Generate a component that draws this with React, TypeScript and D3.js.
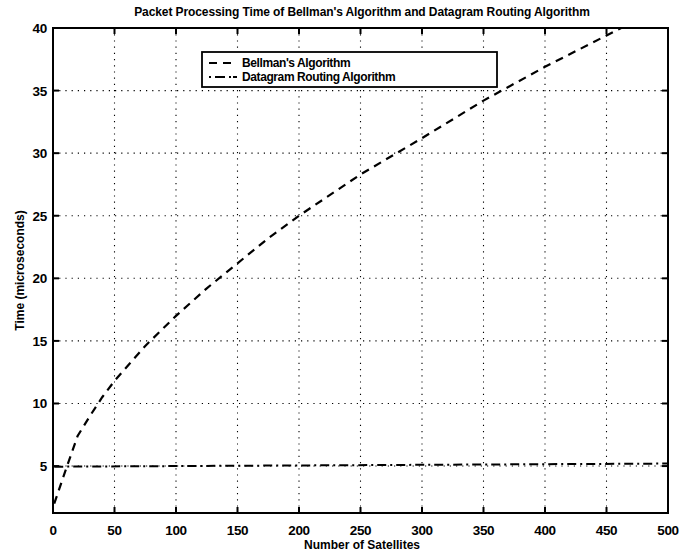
import React from "react";
import * as d3 from "d3";

const satellites = [1, 10, 20, 30, 40, 50, 75, 100, 125, 150, 175, 200, 250, 300, 350, 400, 450, 470];
const bellman = [2.0, 4.6, 7.4, 9.0, 10.5, 11.8, 14.6, 17.0, 19.2, 21.2, 23.2, 25.0, 28.3, 31.2, 34.2, 36.9, 39.4, 40.4];
const datagramX = [1, 100, 200, 300, 400, 500];
const datagram = [4.95, 5.0, 5.05, 5.1, 5.15, 5.2];
const xTicks = [0, 50, 100, 150, 200, 250, 300, 350, 400, 450, 500];
const yTicks = [5, 10, 15, 20, 25, 30, 35, 40];
const seriesNames = ["Bellman's Algorithm", "Datagram Routing Algorithm"];

const W = 694, H = 553;
const L = 53, R = 668, T = 28, B = 513;
const font = "'Liberation Sans', Arial, Helvetica, sans-serif";

export default function App() {
  const x = d3.scaleLinear().domain([0, 500]).range([L, R]);
  const y = d3.scaleLinear().domain([1.25, 40]).range([B, T]);
  const line = d3.line<[number, number]>().x(d => x(d[0])).y(d => y(d[1]));
  const bPts: [number, number][] = satellites.map((s, i) => [s, bellman[i]]);
  const dPts: [number, number][] = datagramX.map((s, i) => [s, datagram[i]]);
  return (
    <svg width={W} height={H} style={{ position: "absolute", left: 0, top: 0, background: "#fff" }}>
      <defs>
        <clipPath id="plot"><rect x={L} y={T} width={R - L} height={B - T} /></clipPath>
      </defs>
      {xTicks.slice(1, -1).map(t => (
        <line key={"gx" + t} x1={x(t)} x2={x(t)} y1={T} y2={B} stroke="#000" strokeWidth={1.1} strokeDasharray="1.2 5" />
      ))}
      {yTicks.slice(0, -1).map(t => (
        <line key={"gy" + t} x1={L} x2={R} y1={y(t)} y2={y(t)} stroke="#000" strokeWidth={1.1} strokeDasharray="1.2 5" />
      ))}
      <rect x={L} y={T} width={R - L} height={B - T} fill="none" stroke="#000" strokeWidth={2} />
      {xTicks.map(t => (
        <g key={"tx" + t}>
          <line x1={x(t)} x2={x(t)} y1={B} y2={B - 6} stroke="#000" strokeWidth={2} />
          <line x1={x(t)} x2={x(t)} y1={T} y2={T + 6} stroke="#000" strokeWidth={2} />
          <text x={x(t)} y={535} textAnchor="middle" fontFamily={font} fontWeight="bold" fontSize={13.5} letterSpacing={-0.3}>{t}</text>
        </g>
      ))}
      {yTicks.map(t => (
        <g key={"ty" + t}>
          <line x1={L} x2={L + 6} y1={y(t)} y2={y(t)} stroke="#000" strokeWidth={2} />
          <line x1={R} x2={R - 6} y1={y(t)} y2={y(t)} stroke="#000" strokeWidth={2} />
          <text x={47} y={y(t) + 5} textAnchor="end" fontFamily={font} fontWeight="bold" fontSize={13.5} letterSpacing={-0.3}>{t}</text>
        </g>
      ))}
      <g clipPath="url(#plot)">
        <path d={line(bPts) ?? ""} fill="none" stroke="#000" strokeWidth={2.2} strokeDasharray="8 6" />
        <path d={line(dPts) ?? ""} fill="none" stroke="#000" strokeWidth={2} strokeDasharray="9 4 2 4" />
      </g>
      <text x={362} y={16} textAnchor="middle" fontFamily={font} fontWeight="bold" fontSize={12} letterSpacing={-0.1}>
        Packet Processing Time of Bellman's Algorithm and Datagram Routing Algorithm
      </text>
      <text x={362} y={549} textAnchor="middle" fontFamily={font} fontWeight="bold" fontSize={12}>Number of Satellites</text>
      <text transform={`translate(24,${(T + B) / 2}) rotate(-90)`} textAnchor="middle" fontFamily={font} fontWeight="bold" fontSize={12}>Time (microseconds)</text>
      <g>
        <rect x={202} y={52} width={295} height={35} fill="#fff" stroke="#000" strokeWidth={1.8} />
        <line x1={209} x2={237} y1={63} y2={63} stroke="#000" strokeWidth={2.2} strokeDasharray="8 6" />
        <line x1={209} x2={237} y1={77} y2={77} stroke="#000" strokeWidth={2} strokeDasharray="2 4 10 4 2" />
        <text x={242} y={67} fontFamily={font} fontWeight="bold" fontSize={12} letterSpacing={-0.4}>{seriesNames[0]}</text>
        <text x={242} y={81} fontFamily={font} fontWeight="bold" fontSize={12} letterSpacing={-0.4}>{seriesNames[1]}</text>
      </g>
    </svg>
  );
}
